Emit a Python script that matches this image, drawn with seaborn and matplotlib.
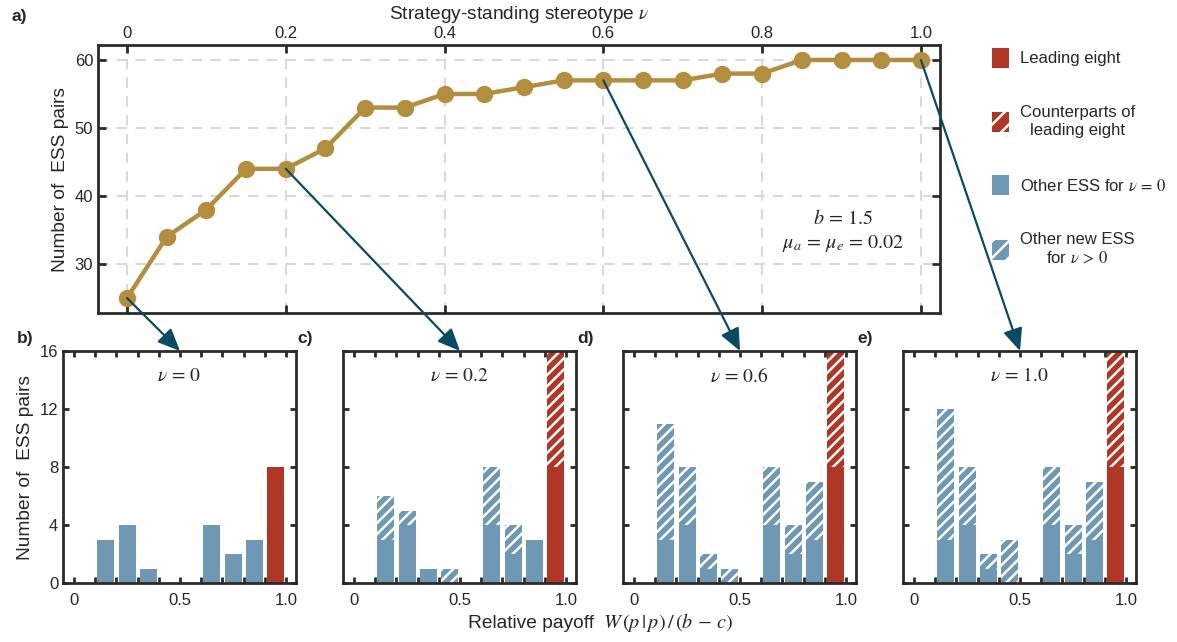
import numpy as np
import matplotlib
matplotlib.use("Agg")
import matplotlib.pyplot as plt
from matplotlib.patches import Patch, ConnectionPatch
import seaborn as sns

# ---------------- data ----------------
nu = [0.0, 0.05, 0.1, 0.15, 0.2, 0.25, 0.3, 0.35, 0.4, 0.45, 0.5,
      0.55, 0.6, 0.65, 0.7, 0.75, 0.8, 0.85, 0.9, 0.95, 1.0]
n_ess = [25, 34, 38, 44, 44, 47, 53, 53, 55, 55, 56,
         57, 57, 57, 57, 58, 58, 60, 60, 60, 60]

payoff_bins = [0.15, 0.25, 0.35, 0.45, 0.65, 0.75, 0.85, 0.95]
bin_kind = ["other", "other", "other", "other", "other", "other", "other", "leading"]
base_counts = [3, 4, 1, 0, 4, 2, 3, 8]          # ESS at nu = 0
panel_nu = [0.0, 0.2, 0.6, 1.0]
panel_titles = [r"$\nu\,=\,0$", r"$\nu\,=\,0.2$", r"$\nu\,=\,0.6$", r"$\nu\,=\,1.0$"]
panel_letters = ["b)", "c)", "d)", "e)"]
total_counts = [
    [3, 4, 1, 0, 4, 2, 3, 8],
    [6, 5, 1, 1, 8, 4, 3, 16],
    [11, 8, 2, 1, 8, 4, 7, 16],
    [12, 8, 2, 3, 8, 4, 7, 16],
]

legend_labels = ["Leading eight", "Counterparts of\nleading eight",
                 r"Other ESS for $\nu\,=\,0$", "Other new ESS\n" + r"for $\nu\,>\,0$"]

# ---------------- style ----------------
sns.set_style("ticks")
plt.rcParams["font.family"] = ["Liberation Sans", "DejaVu Sans"]
plt.rcParams["mathtext.fontset"] = "stix"
plt.rcParams["hatch.color"] = "white"
plt.rcParams["hatch.linewidth"] = 1.8

GOLD = "#B38E3E"
RED = "#B03626"
BLUE = "#6E98B3"
SPINE = "#2b2b2b"
ARROW = "#0B4A63"
palette = {"other": BLUE, "leading": RED}

W, H = 1177, 642
fig = plt.figure(figsize=(W / 100, H / 100), dpi=100)


def frac(left, top, right, bottom):
    return [left / W, 1 - bottom / H, (right - left) / W, (bottom - top) / H]


def style_spines(ax):
    for s in ax.spines.values():
        s.set_visible(True)
        s.set_color(SPINE)
        s.set_linewidth(2.0)


# ---------------- top panel ----------------
ax = fig.add_axes(frac(98, 45, 940, 313))
sns.lineplot(x=nu, y=n_ess, ax=ax, color=GOLD, lw=3.2, marker="o",
             markersize=12.5, markeredgewidth=0, zorder=3)
ax.set_xlim(-0.0365, 1.024)
ax.set_ylim(22.8, 62.2)
ax.set_xticks([0, 0.2, 0.4, 0.6, 0.8, 1.0])
ax.set_xticklabels(["0", "0.2", "0.4", "0.6", "0.8", "1.0"])
ax.set_yticks([30, 40, 50, 60])
ax.xaxis.set_label_position("top")
ax.tick_params(axis="x", direction="in", top=True, bottom=True, labeltop=True,
               labelbottom=False, length=6, width=2, color=SPINE, labelsize=12, pad=3)
ax.tick_params(axis="y", direction="in", left=True, right=True, length=6, width=2,
               color=SPINE, labelsize=12)
ax.grid(True, ls=(0, (5, 4)), color="#d9d9d9", lw=1.5)
ax.set_axisbelow(True)
style_spines(ax)
ax.set_xlabel(r"Strategy-standing stereotype $\nu$", fontsize=13.8, labelpad=5)
ax.set_ylabel("Number of  ESS pairs", fontsize=13.8, labelpad=4)
ax.text(0.902, 34.8, "$b\\,=\\,1.5$\n$\\mu_a\\,=\\,\\mu_e\\,=\\,0.02$", ha="center",
        va="center", fontsize=14.5, linespacing=1.35)
ax_top = ax

fig.text(11 / W, 1 - 16 / H, "a)", fontsize=12.5, fontweight="bold", va="center")

# ---------------- bottom panels ----------------
lefts = [63, 343, 623, 903]
bottom_axes = []
for k in range(4):
    axb = fig.add_axes(frac(lefts[k], 351, lefts[k] + 233, 583))
    n0 = len(axb.patches)
    sns.barplot(x=payoff_bins, y=total_counts[k], hue=bin_kind, palette=palette,
                native_scale=True, dodge=False, legend=False, saturation=1,
                errorbar=None, width=0.8, edgecolor="white", linewidth=0, ax=axb)
    for p in axb.patches[n0:]:
        p.set_hatch("///")
    sns.barplot(x=payoff_bins, y=base_counts, hue=bin_kind, palette=palette,
                native_scale=True, dodge=False, legend=False, saturation=1,
                errorbar=None, width=0.8, edgecolor="white", linewidth=0, ax=axb)
    axb.set_xlim(-0.052, 1.047)
    axb.set_ylim(0, 16)
    axb.set_xticks(np.round(np.arange(0, 1.01, 0.1), 1))
    axb.set_xticklabels(["0", "", "", "", "", "0.5", "", "", "", "", "1.0"])
    axb.set_yticks([0, 4, 8, 12, 16])
    axb.tick_params(axis="both", direction="in", top=True, bottom=True, left=True,
                    right=True, length=4, width=2, color=SPINE, labelsize=12)
    axb.tick_params(axis="x", pad=7)
    if k == 0:
        axb.set_ylabel("Number of  ESS pairs", fontsize=13.8, labelpad=4)
    else:
        axb.set_yticklabels([])
        axb.set_ylabel("")
    axb.set_xlabel("")
    style_spines(axb)
    axb.text(0.5, 0.892, panel_titles[k], transform=axb.transAxes, ha="center",
             va="center", fontsize=14)
    fig.text((lefts[k] - 46) / W, 1 - 339 / H, panel_letters[k], fontsize=12.5,
             fontweight="bold", va="center")
    bottom_axes.append(axb)

fig.text(594 / W, 1 - 623 / H, "Relative payoff", ha="right",
         va="center", fontsize=13.8)
fig.text(603 / W, 1 - 622 / H, r"$W\,(p\,|\,p)\,/\,(b\,-\,c)$", ha="left",
         va="center", fontsize=14.5)

# ---------------- arrows ----------------
for k, v in enumerate(panel_nu):
    i = nu.index(v)
    con = ConnectionPatch(xyA=(nu[i], n_ess[i]), coordsA=ax_top.transData,
                          xyB=(0.5, 16), coordsB=bottom_axes[k].transData,
                          arrowstyle="-|>,head_length=0.8,head_width=0.35",
                          mutation_scale=17, color=ARROW, lw=1.6,
                          shrinkA=0, shrinkB=0, zorder=10)
    fig.add_artist(con)

# ---------------- legend ----------------
handles = [Patch(facecolor=RED, edgecolor="white", lw=0),
           Patch(facecolor=RED, edgecolor="white", hatch="//", lw=0),
           Patch(facecolor=BLUE, edgecolor="white", lw=0),
           Patch(facecolor=BLUE, edgecolor="white", hatch="//", lw=0)]
leg = fig.legend(handles, legend_labels, loc="upper left",
                 bbox_to_anchor=(992 / W, 1 - 48 / H), frameon=False,
                 handlelength=1.0, handleheight=1.45, handletextpad=0.65,
                 labelspacing=2.25, fontsize=12, borderpad=0, borderaxespad=0)
for t in leg.get_texts():
    t.set_multialignment("center")

fig.savefig("out.png", dpi=100)
